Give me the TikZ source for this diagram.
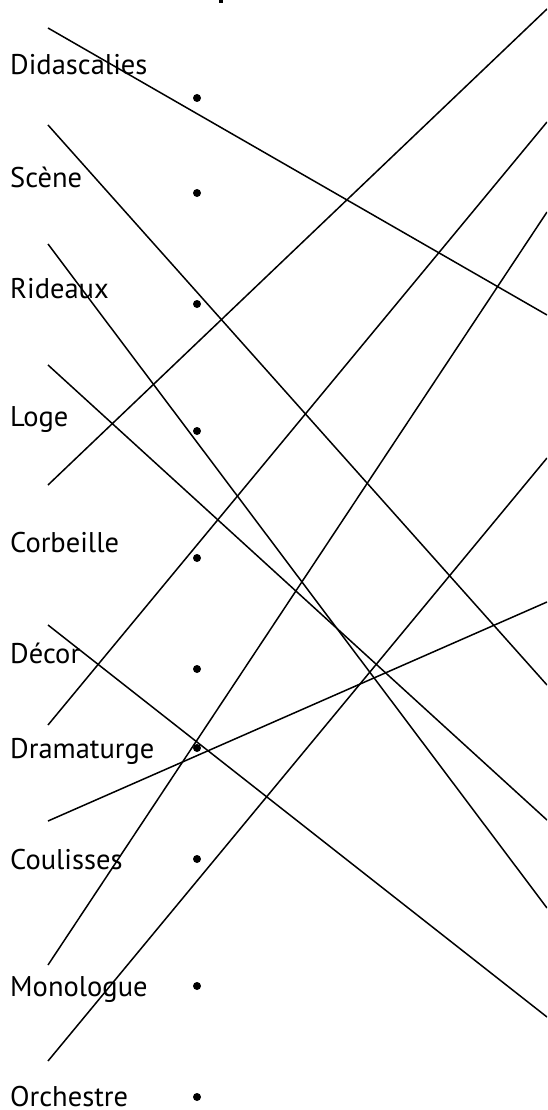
\documentclass[tikz,border=0pt]{standalone}
\usepackage{fontspec}
\setmainfont{PT Sans}
\begin{document}
\begin{tikzpicture}[x=1pt,y=-1pt,
  lbl/.style={anchor=base west,inner sep=0pt,font=\fontsize{28.5}{32}\selectfont},
  bullet/.style={circle,fill=black,inner sep=0pt,minimum size=8pt},
  link/.style={line width=1.5pt,line cap=butt}]
\useasboundingbox (0,0) rectangle (547,1110);
\begin{scope}
\clip (0,0) rectangle (547,1110);
\fill (219,-1) rectangle (223,3);
% labels
\node[lbl] (l1) at (10,75) {Didascalies};
\node[lbl] (l2) at (10,188) {Scène};
\node[lbl] (l3) at (10,298) {Rideaux};
\node[lbl] (l4) at (10,426) {Loge};
\node[lbl] (l5) at (10,552) {Corbeille};
\node[lbl] (l6) at (10,663) {Décor};
\node[lbl] (l7) at (10,758) {Dramaturge};
\node[lbl] (l8) at (10,869) {Coulisses};
\node[lbl] (l9) at (10,996) {Monologue};
\node[lbl] (l10) at (10,1106) {Orchestre};
% bullets
\node[bullet] (d1) at (197,98) {};
\node[bullet] (d2) at (197,193) {};
\node[bullet] (d3) at (197,304) {};
\node[bullet] (d4) at (197,431) {};
\node[bullet] (d5) at (197,558) {};
\node[bullet] (d6) at (197,669) {};
\node[bullet] (d7) at (197,748) {};
\node[bullet] (d8) at (197,859) {};
\node[bullet] (d9) at (197,986) {};
\node[bullet] (d10) at (197,1097) {};
% free ends
\coordinate (a1) at (48,28);
\coordinate (a2) at (48,125);
\coordinate (a3) at (48,244);
\coordinate (a4) at (48,365);
\coordinate (a5) at (48,485);
\coordinate (a6) at (48,625);
\coordinate (a7) at (48,725);
\coordinate (a8) at (48,821);
\coordinate (a9) at (48,965);
\coordinate (a10) at (48,1061);
\coordinate (b1) at (547,9);
\coordinate (b2) at (547,122);
\coordinate (b3) at (547,212);
\coordinate (b4) at (547,315);
\coordinate (b5) at (547,458);
\coordinate (b6) at (547,602);
\coordinate (b7) at (547,685);
\coordinate (b8) at (547,820);
\coordinate (b9) at (547,908);
\coordinate (b10) at (547,1017);
\draw[link] (a1) -- (b4);
\draw[link] (a2) -- (b7);
\draw[link] (a3) -- (b9);
\draw[link] (a4) -- (b8);
\draw[link] (a5) -- (b1);
\draw[link] (a6) -- (b10);
\draw[link] (a7) -- (b2);
\draw[link] (a8) -- (b6);
\draw[link] (a9) -- (b3);
\draw[link] (a10) -- (b5);
\end{scope}
\end{tikzpicture}
\end{document}
